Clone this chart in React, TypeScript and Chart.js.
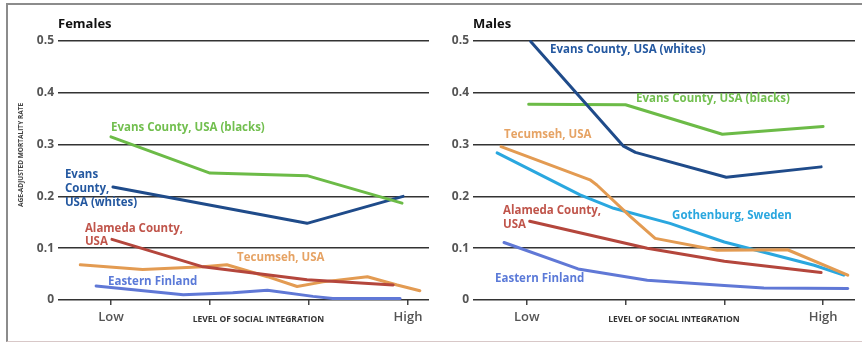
import React, { useEffect, useRef } from 'react';
import { Chart, registerables } from 'chart.js';

Chart.register(...registerables);

type Pt = [number, number];

// Shared axis definitions
const xTickValues = [0, 1, 2, 3];
const xTickLabels = ['Low', '', '', 'High'];
const yTickValues = [0, 0.1, 0.2, 0.3, 0.4, 0.5];
const xAxisTitle = 'LEVEL OF SOCIAL INTEGRATION';
const yAxisTitle = 'AGE-ADJUSTED MORTALITY RATE';

// Females: [level of social integration, age-adjusted mortality rate]
const femalesEvansBlacks: Pt[] = [[0, 0.315], [1, 0.245], [1.98, 0.24], [2.94, 0.187]];
const femalesEvansWhites: Pt[] = [[0.02, 0.218], [1.98, 0.148], [2.95, 0.2]];
const femalesAlameda: Pt[] = [[0.01, 0.117], [0.93, 0.064], [1.98, 0.039], [2.85, 0.029]];
const femalesTecumseh: Pt[] = [
  [-0.31, 0.068], [0.32, 0.059], [0.93, 0.064], [1.17, 0.068], [1.58, 0.045],
  [1.88, 0.026], [2.14, 0.035], [2.59, 0.045], [2.89, 0.029], [3.12, 0.018],
];
const femalesEasternFinland: Pt[] = [
  [-0.15, 0.027], [0.73, 0.01], [1.23, 0.014], [1.58, 0.019], [2.04, 0.007],
  [2.24, 0.003], [2.92, 0.003],
];

// Males
const malesEvansWhites: Pt[] = [[0.04, 0.499], [0.98, 0.297], [1.1, 0.285], [2.02, 0.237], [2.98, 0.257]];
const malesEvansBlacks: Pt[] = [[0.02, 0.378], [1.0, 0.377], [1.98, 0.32], [3.0, 0.335]];
const malesTecumseh: Pt[] = [
  [-0.26, 0.296], [0.64, 0.232], [0.71, 0.222], [1.05, 0.161], [1.3, 0.119],
  [1.93, 0.096], [2.64, 0.097], [3.25, 0.048],
];
const malesGothenburg: Pt[] = [
  [-0.3, 0.284], [0.54, 0.203], [0.88, 0.177], [1.45, 0.148], [2.0, 0.112],
  [2.91, 0.067], [3.21, 0.048],
];
const malesAlameda: Pt[] = [[0.03, 0.152], [1.22, 0.1], [2.0, 0.075], [2.98, 0.053]];
const malesEasternFinland: Pt[] = [
  [-0.23, 0.111], [0.52, 0.06], [1.22, 0.038], [2.0, 0.028], [2.4, 0.023], [3.25, 0.022],
];

const colors = {
  evansBlacks: '#6cbb47',
  evansWhites: '#1f4b8a',
  alameda: '#b4463c',
  tecumseh: '#e39b52',
  easternFinland: '#6078d6',
  gothenburg: '#2aa7df',
};

const textColors = {
  evansBlacks: '#72bf4f',
  evansWhites: '#2458a0',
  alameda: '#c0554b',
  tecumseh: '#e6a364',
  easternFinland: '#5b7ad8',
  gothenburg: '#2aa7df',
};

type SeriesDef = { name: string; data: Pt[]; color: string };
type LabelDef = { lines: string[]; x: number; y: number; color: string; lh: number };
type PanelDef = {
  title: string;
  left: number;
  xMin: number;
  xMax: number;
  areaLeft: number;
  areaRight: number;
  showYTitle: boolean;
  series: SeriesDef[];
  labels: LabelDef[];
};

const panels: PanelDef[] = [
  {
    title: 'Females',
    left: 0,
    xMin: -0.535,
    xMax: 3.212,
    areaLeft: 58,
    areaRight: 429,
    showYTitle: true,
    series: [
      { name: 'Evans County, USA (blacks)', data: femalesEvansBlacks, color: colors.evansBlacks },
      { name: 'Evans County, USA (whites)', data: femalesEvansWhites, color: colors.evansWhites },
      { name: 'Alameda County, USA', data: femalesAlameda, color: colors.alameda },
      { name: 'Tecumseh, USA', data: femalesTecumseh, color: colors.tecumseh },
      { name: 'Eastern Finland', data: femalesEasternFinland, color: colors.easternFinland },
    ],
    labels: [
      { lines: ['Evans County, USA (blacks)'], x: 0, y: 0.333, color: textColors.evansBlacks, lh: 14 },
      { lines: ['Evans', 'County,', 'USA (whites)'], x: -0.465, y: 0.241, color: textColors.evansWhites, lh: 14 },
      { lines: ['Alameda County,', 'USA'], x: -0.263, y: 0.138, color: textColors.alameda, lh: 13 },
      { lines: ['Tecumseh, USA'], x: 1.273, y: 0.081, color: textColors.tecumseh, lh: 14 },
      { lines: ['Eastern Finland'], x: -0.03, y: 0.035, color: textColors.easternFinland, lh: 14 },
    ],
  },
  {
    title: 'Males',
    left: 431,
    xMin: -0.544,
    xMax: 3.323,
    areaLeft: 42,
    areaRight: 424,
    showYTitle: false,
    series: [
      { name: 'Evans County, USA (whites)', data: malesEvansWhites, color: colors.evansWhites },
      { name: 'Evans County, USA (blacks)', data: malesEvansBlacks, color: colors.evansBlacks },
      { name: 'Tecumseh, USA', data: malesTecumseh, color: colors.tecumseh },
      { name: 'Gothenburg, Sweden', data: malesGothenburg, color: colors.gothenburg },
      { name: 'Alameda County, USA', data: malesAlameda, color: colors.alameda },
      { name: 'Eastern Finland', data: malesEasternFinland, color: colors.easternFinland },
    ],
    labels: [
      { lines: ['Evans County, USA (whites)'], x: 0.236, y: 0.483, color: textColors.evansWhites, lh: 14 },
      { lines: ['Evans County, USA (blacks)'], x: 1.106, y: 0.388, color: textColors.evansBlacks, lh: 14 },
      { lines: ['Tecumseh, USA'], x: -0.23, y: 0.319, color: textColors.tecumseh, lh: 14 },
      { lines: ['Gothenburg, Sweden'], x: 1.471, y: 0.162, color: textColors.gothenburg, lh: 14 },
      { lines: ['Alameda County,', 'USA'], x: -0.24, y: 0.172, color: textColors.alameda, lh: 14 },
      { lines: ['Eastern Finland'], x: -0.321, y: 0.041, color: textColors.easternFinland, lh: 14 },
    ],
  },
];

const WIDTH = 431;
const HEIGHT = 345;
const AREA_TOP = 41;
const AREA_BOTTOM = 300;
const LABEL_FONT = 'bold 11.5px "Open Sans"';

function makeTextPlugin(panel: PanelDef) {
  return {
    id: 'panelText',
    afterDatasetsDraw(chart: any) {
      const { ctx, chartArea, scales } = chart;
      ctx.save();
      ctx.textBaseline = 'middle';
      ctx.textAlign = 'left';

      ctx.fillStyle = '#111';
      ctx.font = 'bold 13px "Open Sans"';
      ctx.fillText(panel.title, chartArea.left, 24);

      ctx.font = LABEL_FONT;
      for (const l of panel.labels) {
        const px = scales.x.getPixelForValue(l.x);
        const py = scales.y.getPixelForValue(l.y);
        ctx.fillStyle = l.color;
        l.lines.forEach((s, i) => ctx.fillText(s, px, py + i * l.lh));
      }

      ctx.fillStyle = '#333';
      ctx.textAlign = 'center';
      ctx.font = 'bold 8.5px "Open Sans"';
      ctx.fillText(xAxisTitle, scales.x.getPixelForValue(1.49), 320);

      if (panel.showYTitle) {
        ctx.translate(21.5, 155);
        ctx.rotate(-Math.PI / 2);
        ctx.font = 'bold 6.5px "Open Sans"';
        ctx.fillStyle = '#444';
        ctx.fillText(yAxisTitle, 0, 0);
      }
      ctx.restore();
    },
  };
}

function Panel({ panel }: { panel: PanelDef }) {
  const ref = useRef<HTMLCanvasElement | null>(null);

  useEffect(() => {
    if (!ref.current) return;
    const chart = new Chart(ref.current, {
      type: 'line',
      data: {
        datasets: panel.series.map((s) => ({
          label: s.name,
          data: s.data.map(([x, y]) => ({ x, y })),
          borderColor: s.color,
          backgroundColor: s.color,
          borderWidth: 3,
          pointRadius: 0,
          tension: 0,
          fill: false,
          borderJoinStyle: 'round' as const,
          borderCapStyle: 'round' as const,
          clip: false as any,
        })),
      },
      options: {
        animation: false,
        responsive: false,
        maintainAspectRatio: false,
        devicePixelRatio: 1,
        layout: {
          padding: { top: AREA_TOP, left: 0, right: WIDTH - panel.areaRight, bottom: 0 },
        },
        plugins: {
          legend: { display: false },
          tooltip: { enabled: false },
          title: { display: false },
        },
        scales: {
          x: {
            type: 'linear',
            min: panel.xMin,
            max: panel.xMax,
            afterFit: (s: any) => {
              s.height = HEIGHT - AREA_BOTTOM;
            },
            afterBuildTicks: (s: any) => {
              s.ticks = xTickValues.map((v) => ({ value: v }));
            },
            ticks: {
              autoSkip: false,
              maxRotation: 0,
              padding: 4,
              color: '#555',
              font: { family: '"Open Sans"', size: 13, weight: 600 },
              callback: (v: any) => {
                const i = xTickValues.indexOf(Number(v));
                return i >= 0 ? xTickLabels[i] : '';
              },
            },
            grid: {
              drawOnChartArea: false,
              drawTicks: true,
              tickLength: 5,
              color: '#444',
              lineWidth: 1.5,
            },
            border: { display: false },
          },
          y: {
            type: 'linear',
            min: 0,
            max: 0.5,
            afterFit: (s: any) => {
              s.width = panel.areaLeft;
            },
            afterBuildTicks: (s: any) => {
              s.ticks = yTickValues.map((v) => ({ value: v }));
            },
            ticks: {
              padding: 4,
              color: '#555',
              font: { family: '"Open Sans"', size: 12, weight: 'bold' },
              callback: (v: any) => (Number(v) === 0 ? '0' : Number(v).toFixed(1)),
            },
            grid: {
              drawTicks: false,
              color: '#333',
              lineWidth: 1.5,
            },
            border: { display: false },
          },
        },
      },
      plugins: [makeTextPlugin(panel)],
    });
    return () => chart.destroy();
  }, [panel]);

  return (
    <canvas
      ref={ref}
      width={WIDTH}
      height={HEIGHT}
      style={{ position: 'absolute', left: panel.left, top: 0, width: WIDTH, height: HEIGHT }}
    />
  );
}

export default function App() {
  return (
    <div
      style={{
        position: 'fixed',
        left: 0,
        top: 0,
        width: 862,
        height: 345,
        background: '#fff',
        overflow: 'hidden',
      }}
    >
      {panels.map((p) => (
        <Panel key={p.title} panel={p} />
      ))}
      <div
        style={{
          position: 'absolute',
          left: 6,
          top: 3,
          width: 900,
          height: 336,
          borderTop: '2px solid #8c8c8c',
          borderLeft: '2px solid #8c8c8c',
          borderBottom: '1px solid #d8c8c8',
          pointerEvents: 'none',
        }}
      />
    </div>
  );
}
